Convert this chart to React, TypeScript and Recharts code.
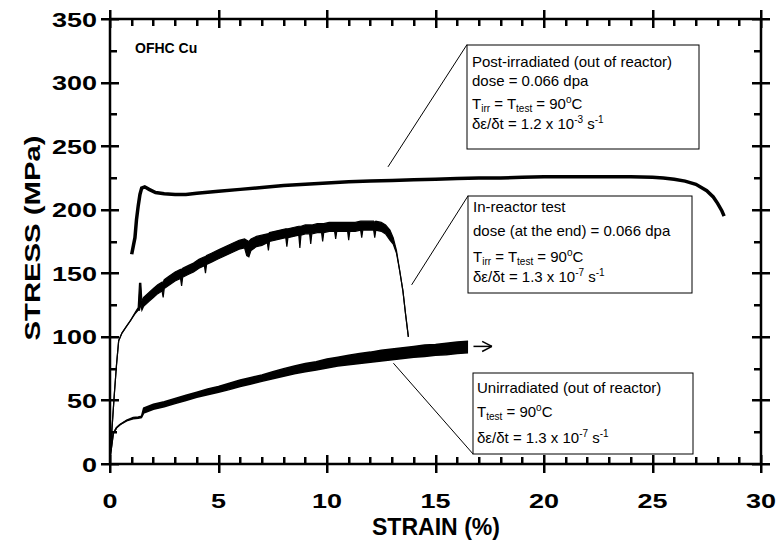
import React from 'react';
import { ComposedChart, Line, Area, XAxis, YAxis, ReferenceLine } from 'recharts';

// post-irradiated, out of reactor
const postStrain = [1.0, 1.08, 1.15, 1.22, 1.3, 1.38, 1.46, 1.6, 1.8, 2.1, 2.5, 3.0, 3.5, 4.0, 5.0, 6, 7, 8, 9, 10, 11, 12, 13, 14, 15, 16, 17, 18, 19, 20, 21, 22, 23, 24, 25, 25.5, 26, 26.5, 27, 27.5, 27.8, 28.0, 28.2, 28.3];
const postStress = [165, 172, 178, 192, 203, 212, 217, 218, 216, 213.5, 212.5, 212, 212, 213, 214.5, 216, 217.5, 219, 220, 221, 222, 222.5, 223, 223.5, 224, 224.5, 225, 225, 225.5, 226, 226, 226, 226, 226, 225.5, 225, 224, 222.5, 220, 215, 210, 205, 199, 195];

// in-reactor test (noisy trace: low / high envelope)
const reactorStrain = [0, 0.1, 0.2, 0.3, 0.4, 0.55, 0.75, 0.95, 1.15, 1.3, 1.36, 1.42, 1.47, 1.55, 1.8, 2.0, 2.2, 2.4, 2.45, 2.5, 2.75, 3.0, 3.25, 3.3, 3.35, 3.6, 3.85, 4.1, 4.35, 4.4, 4.45, 4.7, 4.95, 5.2, 5.45, 5.7, 5.95, 6.2, 6.3, 6.4, 6.5, 6.75, 7.0, 7.25, 7.3, 7.35, 7.6, 7.85, 8.1, 8.15, 8.2, 8.45, 8.7, 8.75, 8.8, 9.0, 9.2, 9.25, 9.3, 9.55, 9.75, 9.8, 9.85, 10.1, 10.35, 10.4, 10.45, 10.7, 10.95, 11.0, 11.05, 11.3, 11.55, 11.6, 11.65, 11.9, 12.15, 12.2, 12.25, 12.5, 12.7, 12.9, 13.05, 13.2, 13.35, 13.5, 13.62, 13.75];
const reactorLow = [5, 30, 55, 78, 97, 103, 108, 113, 118, 121, 121, 126, 121, 124, 128, 131, 134, 136, 131, 138, 141, 144, 146, 140, 147, 149, 151, 154, 156, 150, 157, 159, 161, 163, 165, 167, 169, 170, 164, 163, 168, 171, 172, 174, 168, 175, 176, 177, 178, 171, 178, 179, 180, 170, 180, 181, 181, 173, 181, 182, 182, 175, 182, 183, 183, 177, 183, 183, 183, 176, 183, 183, 184, 178, 184, 184, 184, 178, 184, 183, 181, 176, 173, 166, 152, 136, 118, 100];
const reactorHigh = [5, 30, 55, 78, 97, 103, 108, 113, 119, 123, 142, 142, 128, 131, 135, 138, 141, 143, 143, 145, 148, 151, 153, 153, 154, 156, 158, 161, 163, 163, 164, 166, 168, 170, 172, 174, 176, 177, 176, 175, 177, 179, 180, 181, 181, 182, 183, 184, 185, 185, 185, 186, 187, 187, 187, 188, 188, 188, 188, 189, 189, 189, 189, 190, 190, 190, 190, 190, 190, 190, 190, 190, 191, 191, 191, 191, 191, 190, 191, 190, 188, 184, 178, 168, 152, 136, 118, 100];

// unirradiated, out of reactor
const unirrStrain = [0, 0.08, 0.15, 0.3, 0.46, 0.77, 1.07, 1.3, 1.45, 1.55, 2.0, 2.5, 3.0, 3.5, 4.0, 4.5, 5.0, 5.5, 6.0, 6.5, 7.0, 7.5, 8.0, 8.5, 9.0, 9.5, 10.0, 10.5, 11.0, 11.5, 12.0, 12.5, 13.0, 13.5, 14.0, 14.5, 15.0, 15.5, 16.0, 16.5];
const unirrLow = [5, 15, 24, 28.5, 31, 34, 35.5, 36, 36.5, 40, 43, 45, 47.5, 50, 52.5, 54.5, 56.5, 58.5, 61, 63, 65, 67, 69, 71, 72.5, 74, 75.5, 77, 78, 79, 80, 81, 82, 83, 84, 84.5, 85.5, 86, 87, 87.5];
const unirrHigh = [5, 15, 24, 28.5, 31, 34.5, 36.5, 37, 37.5, 44, 47, 49, 51.5, 54, 56.5, 59, 61, 63.5, 66, 68, 70, 72.5, 75, 77, 79, 80.5, 82.5, 84, 85.5, 87, 88, 89.5, 90.5, 91.5, 92.5, 93.5, 94, 95, 96, 96.5];

const xTicks = [0, 1, 2, 3, 4, 5, 6, 7, 8, 9, 10, 11, 12, 13, 14, 15, 16, 17, 18, 19, 20, 21, 22, 23, 24, 25, 26, 27, 28, 29, 30];
const yTicks = [0, 25, 50, 75, 100, 125, 150, 175, 200, 225, 250, 275, 300, 325, 350];

const postData = postStrain.map((x, i) => ({ x, y: postStress[i] }));
const reactorData = reactorStrain.map((x, i) => ({ x, band: [reactorLow[i], reactorHigh[i]] }));
const unirrData = unirrStrain.map((x, i) => ({ x, band: [unirrLow[i], unirrHigh[i]] }));

const FONT = '"Liberation Sans", Arial, sans-serif';

// plot box in page pixels (the chart margins below give the same box)
const LEFT = 110, RIGHT = 761, TOP = 19, BOTTOM = 464;
const px = (v: number) => LEFT + (v / 30) * (RIGHT - LEFT);
const py = (v: number) => BOTTOM - (v / 350) * (BOTTOM - TOP);

const BottomLabel = ({ x, y, payload }: any) => {
  if (payload.value % 5 !== 0) return <g />;
  const s = String(payload.value);
  return (
    <text x={x} y={y + 44} textAnchor="middle" fontSize={21} fontWeight="bold" fontFamily={FONT} fill="#000"
      textLength={s.length * 15} lengthAdjust="spacingAndGlyphs">
      {s}
    </text>
  );
};

const LeftLabel = ({ x, y, payload }: any) => {
  if (payload.value % 50 !== 0) return <g />;
  const s = String(payload.value);
  return (
    <text x={x - 13} y={y + 7.5} textAnchor="end" fontSize={21} fontWeight="bold" fontFamily={FONT} fill="#000"
      textLength={s.length * 15} lengthAdjust="spacingAndGlyphs">
      {s}
    </text>
  );
};

const Sub = ({ children }: any) => <tspan fontSize={10} dy={3}>{children}</tspan>;
const Sup = ({ children }: any) => <tspan fontSize={10} dy={-6}>{children}</tspan>;

// tick marks on all four sides: majors cross the frame, minors point inward
function TickMarks() {
  const marks: any[] = [];
  xTicks.forEach((v) => {
    const x = Math.round(px(v)) - 1;
    const major = v % 5 === 0;
    marks.push(<rect key={`b${v}`} x={x} y={BOTTOM - (major ? 9 : 7)} width={2.5} height={major ? 18 : 7} fill="#000" />);
    marks.push(<rect key={`t${v}`} x={x} y={TOP - (major ? 9 : 0)} width={2.5} height={major ? 18 : 7} fill="#000" />);
  });
  yTicks.forEach((v) => {
    const y = Math.round(py(v)) - 1;
    const major = v % 50 === 0;
    marks.push(<rect key={`l${v}`} x={LEFT - (major ? 9 : 0)} y={y} width={major ? 18 : 7} height={2.5} fill="#000" />);
    marks.push(<rect key={`r${v}`} x={RIGHT - (major ? 9 : 7)} y={y} width={major ? 18 : 7} height={2.5} fill="#000" />);
  });
  return <g>{marks}</g>;
}

export default function App() {
  const txt = { fontSize: 15, fontFamily: FONT, fill: '#000' };
  return (
    <div style={{ position: 'absolute', left: 0, top: 0, width: 776, height: 543, background: '#fff' }}>
      <ComposedChart width={776} height={543} margin={{ top: TOP, right: 776 - RIGHT, bottom: 0, left: 0 }}>
        <XAxis
          type="number"
          dataKey="x"
          domain={[0, 30]}
          ticks={xTicks}
          interval={0}
          tickSize={0}
          tickMargin={0}
          height={543 - BOTTOM}
          allowDataOverflow
          axisLine={{ stroke: '#000', strokeWidth: 2.5 }}
          tickLine={false}
          tick={(p: any) => <BottomLabel {...p} />}
        />
        <YAxis
          type="number"
          domain={[0, 350]}
          ticks={yTicks}
          interval={0}
          tickSize={0}
          tickMargin={0}
          width={LEFT}
          allowDataOverflow
          axisLine={{ stroke: '#000', strokeWidth: 2.5 }}
          tickLine={false}
          tick={(p: any) => <LeftLabel {...p} />}
        />

        {/* frame: top and right */}
        <ReferenceLine y={350} stroke="#000" strokeWidth={2.5} ifOverflow="visible" />
        <ReferenceLine x={30} stroke="#000" strokeWidth={2.5} ifOverflow="visible" />

        <Area data={unirrData} dataKey="band" type="linear" stroke="#000" strokeWidth={1.5} fill="#000" fillOpacity={1} isAnimationActive={false} dot={false} activeDot={false} />
        <Area data={reactorData} dataKey="band" type="linear" stroke="#000" strokeWidth={1.2} fill="#000" fillOpacity={1} isAnimationActive={false} dot={false} activeDot={false} />
        <Line data={postData} dataKey="y" type="linear" stroke="#000" strokeWidth={3.5} dot={false} activeDot={false} isAnimationActive={false} />

        {/* leader lines to the note boxes */}
        <ReferenceLine segment={[{ x: 12.81, y: 233.7 }, { x: 16.45, y: 329.8 }]} stroke="#000" strokeWidth={1} />
        <ReferenceLine segment={[{ x: 13.9, y: 140.9 }, { x: 16.5, y: 210.9 }]} stroke="#000" strokeWidth={1} />
        <ReferenceLine segment={[{ x: 13.06, y: 79.3 }, { x: 16.73, y: 7.9 }]} stroke="#000" strokeWidth={1} />

        {/* arrow after the unirradiated curve */}
        <ReferenceLine segment={[{ x: 16.75, y: 92.5 }, { x: 17.6, y: 92.5 }]} stroke="#000" strokeWidth={1.5} />
        <ReferenceLine segment={[{ x: 17.15, y: 96.5 }, { x: 17.6, y: 92.5 }]} stroke="#000" strokeWidth={1.5} />
        <ReferenceLine segment={[{ x: 17.15, y: 88.5 }, { x: 17.6, y: 92.5 }]} stroke="#000" strokeWidth={1.5} />
      </ComposedChart>

      <svg width={776} height={543} style={{ position: 'absolute', left: 0, top: 0, pointerEvents: 'none' }}>
        <TickMarks />

        <text x={436} y={535} textAnchor="middle" fontSize={23} fontWeight="bold" fontFamily={FONT} fill="#000"
          textLength={128} lengthAdjust="spacingAndGlyphs">STRAIN (%)</text>
        <text transform="translate(40,238) rotate(-90)" textAnchor="middle" fontSize={22} fontWeight="bold" fontFamily={FONT} fill="#000"
          textLength={205} lengthAdjust="spacingAndGlyphs">STRESS (MPa)</text>

        <text x={135} y={53} fontSize={14} fontWeight="bold" fontFamily={FONT} fill="#000">OFHC Cu</text>

        <rect x={467} y={45} width={232} height={104} fill="#fff" stroke="#000" strokeWidth={1} />
        <text x={472} y={67} {...txt}>Post-irradiated (out of reactor)</text>
        <text x={472} y={86} {...txt}>dose = 0.066 dpa</text>
        <text x={472} y={109} {...txt}>T<Sub>irr</Sub><tspan dy={-3}> = T</tspan><Sub>test</Sub><tspan dy={-3}> = 90</tspan><Sup>o</Sup><tspan dy={6}>C</tspan></text>
        <text x={472} y={129} {...txt}>δε/δt = 1.2 x 10<Sup>-3</Sup><tspan dy={6}> s</tspan><Sup>-1</Sup></text>

        <rect x={468} y={196} width={224} height={97} fill="#fff" stroke="#000" strokeWidth={1} />
        <text x={473} y={212} {...txt}>In-reactor test</text>
        <text x={473} y={236} {...txt}>dose (at the end) = 0.066 dpa</text>
        <text x={473} y={262} {...txt}>T<Sub>irr</Sub><tspan dy={-3}> = T</tspan><Sub>test</Sub><tspan dy={-3}> = 90</tspan><Sup>o</Sup><tspan dy={6}>C</tspan></text>
        <text x={473} y={282} {...txt}>δε/δt = 1.3 x 10<Sup>-7</Sup><tspan dy={6}> s</tspan><Sup>-1</Sup></text>

        <rect x={473} y={373} width={220} height={81} fill="#fff" stroke="#000" strokeWidth={1} />
        <text x={477} y={393} {...txt}>Unirradiated (out of reactor)</text>
        <text x={477} y={417} {...txt}>T<Sub>test</Sub><tspan dy={-3}> = 90</tspan><Sup>o</Sup><tspan dy={6}>C</tspan></text>
        <text x={477} y={443} {...txt}>δε/δt = 1.3 x 10<Sup>-7</Sup><tspan dy={6}> s</tspan><Sup>-1</Sup></text>
      </svg>
    </div>
  );
}
